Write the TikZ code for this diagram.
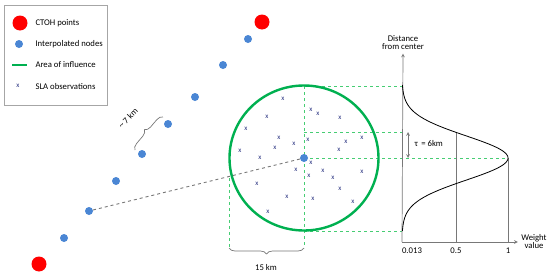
\documentclass[tikz,border=0pt]{standalone}
\usepackage{fontspec}
\setmainfont{Carlito}
\usetikzlibrary{decorations.pathreplacing}
\definecolor{ctohred}{RGB}{255,0,0}
\definecolor{nodeblue}{RGB}{74,134,212}
\definecolor{areagreen}{RGB}{0,176,80}
\definecolor{dashgreen}{RGB}{70,205,115}
\definecolor{slanavy}{RGB}{35,45,125}
\definecolor{axisgray}{RGB}{120,120,120}
\begin{document}
\begin{tikzpicture}[x=1pt, y=-1pt,
    txt/.style={font=\fontsize{8.7}{10}\selectfont},
    ctoh/.style={circle, fill=ctohred, inner sep=0pt, minimum size=15},
    interp/.style={circle, fill=nodeblue, inner sep=0pt, minimum size=8},
    sla/.style={text=slanavy, inner sep=0pt, font=\fontsize{7}{7}\selectfont},
    area/.style={areagreen, line width=2.4},
    guide/.style={dashgreen, dashed, line width=0.9},
    track/.style={axisgray, dashed, line width=0.9},
    axis/.style={axisgray, line width=0.7, >=stealth},
    kbrace/.style={axisgray, line width=0.7, decorate, decoration={brace, amplitude=6}}]
    \useasboundingbox (0,0) rectangle (550,276);
    % Legend
    \draw[gray!70, line width=0.8] (4,5) rectangle (107,105);
    \node[ctoh] (lc) at (20,23) {};
    \node[txt, right] (lct) at (32,23) {CTOH points};
    \node[interp] (ln) at (19,44) {};
    \node[txt, right] (lnt) at (32,44) {Interpolated nodes};
    \coordinate (la1) at (12,65);
    \coordinate (la2) at (27,65);
    \draw[area] (la1) -- (la2);
    \node[txt, right] (lat) at (32,65) {Area of influence};
    \node[sla] (ls) at (18,86) {x};
    \node[txt, right] (lst) at (32,87) {SLA observations};
    % Track: CTOH points and interpolated nodes
    \node[ctoh] (c1) at (39,264) {};
    \node[ctoh] (c2) at (262,22) {};
    \node[interp] (n1) at (64,238) {};
    \node[interp] (n2) at (89,211) {};
    \node[interp] (n3) at (116,181) {};
    \node[interp] (n4) at (142,154) {};
    \node[interp] (n5) at (168,124) {};
    \node[interp] (n6) at (195,97) {};
    \node[interp] (n7) at (223,65) {};
    \node[interp] (n8) at (248,39) {};
    % Spacing between nodes
    \coordinate (b1) at (135,150);
    \coordinate (b2) at (163,117);
    \draw[kbrace] (b1) -- (b2);
    \node[txt, rotate=46] (spc) at (128,118) {\textasciitilde\ 7 km};
    % Area of influence
    \draw[guide] (304,86) -- (402,86);
    \draw[guide] (304,132) -- (402,132);
    \draw[guide] (304,158) -- (508,158);
    \draw[guide] (304,231) -- (402,231);
    \draw[guide] (304,86) -- (304,248);
    \draw[guide] (229,178) -- (229,248);
    \draw[area] (304,158) circle[x radius=74.5, y radius=72.5];
    \draw[track] (n2) -- (304,158);
    \node[interp] (ctr) at (304,158) {};
    \foreach \p [count=\i] in {(283,99), (267,117), (246,129), (311,110), (318,114),
        (340,118), (279,138), (275,148), (294,144), (240,151), (260,158), (308,140),
        (346,142), (362,138), (339,150), (311,163), (296,170), (323,171), (309,176),
        (333,178), (362,172), (257,184), (340,189), (287,197), (313,199), (353,202),
        (268,212)}
        \node[sla] (s\i) at \p {x};
    \coordinate (r1) at (304,248);
    \coordinate (r2) at (229,248);
    \draw[kbrace] (r1) -- (r2);
    \node[txt] (rad) at (266,268) {15 km};
    % Weight function
    \coordinate (O) at (402,242);
    \node[txt, align=center] (ylab) at (403,43) {Distance\\[-2pt]from center};
    \node[txt, align=center] (xlab) at (534,242) {Weight\\[-2pt]value};
    \draw[axis, ->] (O) -- (ylab.south);
    \draw[axis, ->] (O) -- (xlab.west);
    \draw[axis] (456,132) -- (456,242);
    \draw[axis] (508,158) -- (508,242);
    \draw[line width=0.8] plot[domain=-73:73, samples=120, smooth]
        ({402+106*exp(-0.693*(\x/26)*(\x/26))}, {158+\x});
    \node[txt] (t0) at (412,251) {0.013};
    \node[txt] (t1) at (456,251) {0.5};
    \node[txt] (t2) at (508,251) {1};
    \coordinate (tau1) at (408,132);
    \coordinate (tau2) at (408,158);
    \draw[axis, <->] (tau1) -- (tau2);
    \node[txt, right] (tau) at (411,144) {τ \,= 6km};
\end{tikzpicture}
\end{document}
